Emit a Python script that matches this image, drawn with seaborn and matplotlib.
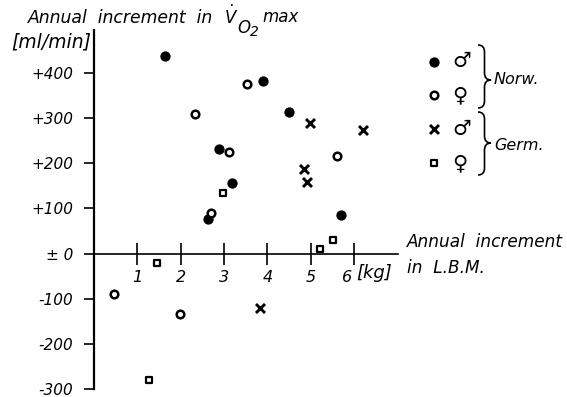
import numpy as np
import pandas as pd
import matplotlib
matplotlib.use("Agg")
import matplotlib.pyplot as plt
import matplotlib.transforms as mtransforms
from matplotlib.path import Path
from matplotlib.patches import PathPatch
import seaborn as sns

# ---------------- data ----------------
norw_male_lbm = [1.64, 3.91, 4.51, 2.88, 3.18, 2.62, 5.70]
norw_male_vo2 = [438, 383, 314, 231, 156, 76, 85]
norw_female_lbm = [3.52, 2.33, 3.12, 5.61, 2.70, 0.47, 1.99]
norw_female_vo2 = [376, 309, 224, 215, 89, -90, -133]
germ_male_lbm = [4.98, 6.20, 4.85, 4.92, 3.84]
germ_male_vo2 = [289, 274, 187, 159, -120]
germ_female_lbm = [2.98, 1.45, 1.27, 5.51, 5.22]
germ_female_vo2 = [133, -22, -281, 31, 9]

group_names = ["Norw. male", "Norw. female", "Germ. male", "Germ. female"]
legend_labels = ["\u2642", "\u2640", "\u2642", "\u2640"]
nation_labels = ["Norw.", "Germ."]
x_ticks = [1, 2, 3, 4, 5, 6]
x_tick_labels = ["1", "2", "3", "4", "5", "6"]
y_ticks = [400, 300, 200, 100, 0, -100, -200, -300]
y_tick_labels = ["+400", "+300", "+200", "+100", "\u00b1 0", "-100", "-200", "-300"]

df = pd.concat([
    pd.DataFrame({"lbm": norw_male_lbm, "vo2": norw_male_vo2, "group": group_names[0]}),
    pd.DataFrame({"lbm": norw_female_lbm, "vo2": norw_female_vo2, "group": group_names[1]}),
    pd.DataFrame({"lbm": germ_male_lbm, "vo2": germ_male_vo2, "group": group_names[2]}),
    pd.DataFrame({"lbm": germ_female_lbm, "vo2": germ_female_vo2, "group": group_names[3]}),
], ignore_index=True)

# ---------------- style ----------------
sns.set_theme(style="white")
plt.rcParams["font.family"] = ["DejaVu Sans"]
plt.rcParams["text.color"] = "black"
plt.rcParams["axes.edgecolor"] = "black"
plt.rcParams["xtick.color"] = "black"
plt.rcParams["ytick.color"] = "black"
plt.rcParams["mathtext.fontset"] = "dejavusans"
plt.rcParams["mathtext.default"] = "it"

W, H = 567, 397
fig = plt.figure(figsize=(W / 100, H / 100), dpi=100)
ax = fig.add_axes([0, 0, 1, 1])
ax.patch.set_visible(False)

# pixel <-> data mapping of the reference (origin at px (94, 253.5))
X0, XU = 94.0, 43.33
Y0, YU = 253.5, 0.4512
ax.set_xlim(-X0 / XU, (W - X0) / XU)
ax.set_ylim((Y0 - H) / YU, Y0 / YU)

def fp(xp, yp):
    return xp / W, 1 - yp / H

styles = {
    group_names[0]: dict(marker="o", s=55, color="black", linewidth=0),
    group_names[1]: dict(marker="o", s=30, facecolor="white", edgecolor="black", linewidth=1.8),
    group_names[2]: dict(marker="x", s=42, color="black", linewidth=2.1),
    group_names[3]: dict(marker="s", s=24, facecolor="white", edgecolor="black", linewidth=1.6),
}
for g in group_names:
    sns.scatterplot(data=df[df["group"] == g], x="lbm", y="vo2", ax=ax,
                    legend=False, zorder=3, **styles[g])

# ---------------- axes through the origin ----------------
for s in ["top", "right"]:
    ax.spines[s].set_visible(False)
ax.spines["left"].set_position(("data", 0))
ax.spines["bottom"].set_position(("data", 0))
ax.spines["left"].set_bounds(-300, (Y0 - 30) / YU)
ax.spines["bottom"].set_bounds(0, (398 - X0) / XU)
ax.spines["left"].set_linewidth(1.6)
ax.spines["bottom"].set_linewidth(1.2)

ax.set_xticks(x_ticks)
ax.set_xticklabels(x_tick_labels, fontsize=11.5, fontstyle="italic")
ax.set_yticks(y_ticks)
ax.set_yticklabels(y_tick_labels, fontsize=11, fontstyle="italic")
ax.tick_params(axis="x", bottom=True, top=False, direction="inout", length=16,
               width=1.2, pad=4)
ax.tick_params(axis="y", left=True, right=False, direction="out", length=7,
               width=1.2, pad=8)
ax.set_xlabel("")
ax.set_ylabel("")

# shift the "6" label left, as in the reference
lab6 = ax.get_xticklabels()[-1]
lab6.set_transform(lab6.get_transform() +
                   mtransforms.ScaledTranslation(-7 / 100, 0, fig.dpi_scale_trans))

# ---------------- axis titles ----------------
tkw = dict(fontstyle="italic", ha="left", va="baseline")
fig.text(*fp(28, 23), "Annual  increment  in", fontsize=12.4, **tkw)
fig.text(*fp(224, 24), r"$\dot{V}$", fontsize=12, **tkw)
fig.text(*fp(237, 33), "O", fontsize=12, **tkw)
fig.text(*fp(250, 36), "2", fontsize=10, **tkw)
fig.text(*fp(262, 22), "max", fontsize=12, **tkw)
fig.text(*fp(91, 42), "[ml/min]", fontsize=13.5, fontstyle="italic", ha="right", va="center")
fig.text(*fp(407, 242), "Annual  increment", fontsize=12.2, fontstyle="italic",
         ha="left", va="center")
fig.text(*fp(407, 268), "in  L.B.M.", fontsize=12.2, fontstyle="italic",
         ha="left", va="center")
fig.text(*fp(356, 273), "[kg]", fontsize=13, fontstyle="italic", ha="left", va="center")

# ---------------- legend ----------------
handles = ax.collections[:4]
leg = ax.legend(handles, legend_labels, loc="upper left",
                bbox_to_anchor=fp(424, 51), bbox_transform=fig.transFigure,
                frameon=False, fontsize=15, handlelength=1.0, handletextpad=0.35,
                labelspacing=0.67, borderpad=0, borderaxespad=0)

# braces and nation labels
def brace(x0, yt, yb, ym, w):
    xm = x0 + w / 2
    r = 7
    verts = [(x0, yt), (xm, yt), (xm, yt + r), (xm, ym - r), (xm, ym), (x0 + w, ym),
             (xm, ym), (xm, ym + r), (xm, yb - r), (xm, yb), (x0, yb)]
    codes = [Path.MOVETO, Path.CURVE3, Path.CURVE3, Path.LINETO, Path.CURVE3, Path.CURVE3,
             Path.CURVE3, Path.CURVE3, Path.LINETO, Path.CURVE3, Path.CURVE3]
    verts = [fp(a, b) for a, b in verts]
    fig.add_artist(PathPatch(Path(verts, codes), transform=fig.transFigure,
                             fill=False, lw=1.2, edgecolor="black"))

brace(478, 45, 108, 80, 13)
brace(478, 112, 175, 143, 13)
fig.text(*fp(494, 80), nation_labels[0], fontsize=11.5, fontstyle="italic", ha="left", va="center")
fig.text(*fp(494, 145), nation_labels[1], fontsize=11.5, fontstyle="italic", ha="left", va="center")

fig.savefig("out.png", dpi=100)
